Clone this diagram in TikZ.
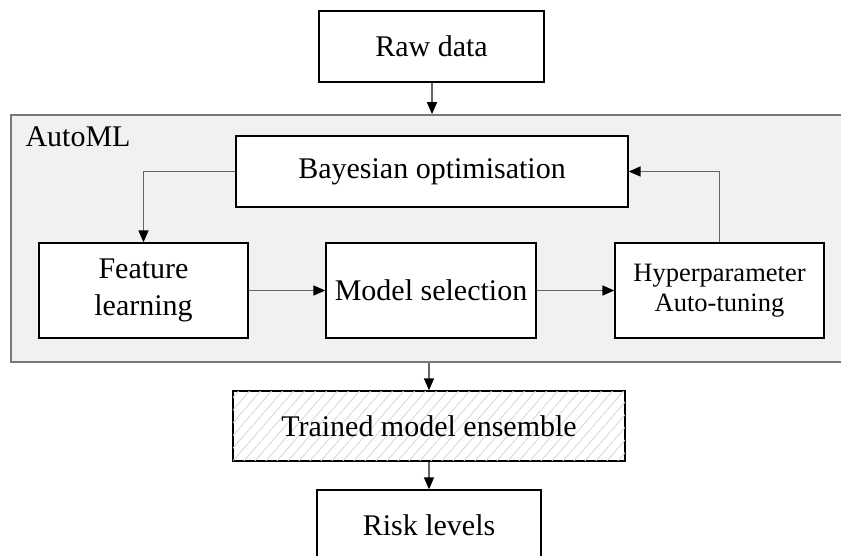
\documentclass[tikz,border=0pt]{standalone}
\usepackage{fontspec}
\setmainfont{Liberation Serif}
\usetikzlibrary{arrows.meta,positioning,calc}

\definecolor{panelfill}{RGB}{241,241,241}
\definecolor{panelline}{RGB}{120,120,120}
\definecolor{linkgray}{RGB}{100,100,100}
\definecolor{hatchgray}{RGB}{218,218,218}

\tikzset{
  x=1pt, y=-1pt,
  bigtext/.style={font=\fontsize{30}{37}\selectfont},
  stepbox/.style={draw=black, line width=1.3pt, fill=white, rectangle,
    inner sep=0pt, align=center, bigtext},
  link/.style={draw=linkgray, line width=1.5pt,
    -{Triangle[length=12pt,width=10pt,color=black]}},
  hatchline/.style={draw=hatchgray, line width=0.9pt},
}

\begin{document}
\begin{tikzpicture}
\useasboundingbox (0,0) rectangle (841,556);

% AutoML panel
\node[draw=panelline, line width=1.7pt, fill=panelfill, rectangle,
  minimum width=832pt, minimum height=247pt, inner sep=0pt]
  (automl) at (427,238.5) {};
\node[anchor=base west, bigtext] (automltitle) at (22,147) {AutoML};

% Steps
\node[stepbox, minimum width=225pt, minimum height=71pt] (raw) at (431.5,46.5) {Raw data};
\node[stepbox, minimum width=392pt, minimum height=71pt] (bayes) at (432,171.5) {Bayesian optimisation};
\node[stepbox, minimum width=209pt, minimum height=95pt] (feat) at (143.5,290.5) {Feature\\learning};
\node[stepbox, minimum width=210pt, minimum height=95pt] (model) at (431,290.5) {Model selection};
\node[stepbox, minimum width=209pt, minimum height=95pt,
  font=\fontsize{26.5}{30}\selectfont] (hyper) at (719.5,290.5) {Hyperparameter\\Auto-tuning};
\node[stepbox, minimum width=392pt, minimum height=70pt] (trained) at (429,426) {};
\node[stepbox, minimum width=224pt, minimum height=71pt] (risk) at (429,525.5) {Risk levels};

% Hatching of the ensemble box
\begin{scope}
  \clip (trained.south west) rectangle (trained.north east);
  \foreach \i in {-8,...,38}
    \draw[hatchline] ($(trained.south west)+(\i*11,0)$) -- ++(65,-75);
\end{scope}
\draw[line width=1.3pt] (trained.south west) rectangle (trained.north east);
\node[bigtext] (trainedtext) at (trained.center) {Trained model ensemble};

% Connectors
\coordinate (rawout) at ($(raw.south)+(0.5,0)$);
\coordinate (panelin) at (rawout |- automl.north);
\coordinate (panelout) at (trained.north |- automl.south);
\draw[link] (rawout) -- (panelin);
\draw[link] (bayes.west) -| (feat.north);
\draw[link] (feat.east) -- (feat.east -| model.west);
\draw[link] (model.east) -- (model.east -| hyper.west);
\draw[link] (hyper.north) |- (bayes.east);
\draw[link] (panelout) -- (trained.north);
\draw[link] (trained.south) -- (risk.north);
\end{tikzpicture}
\end{document}
